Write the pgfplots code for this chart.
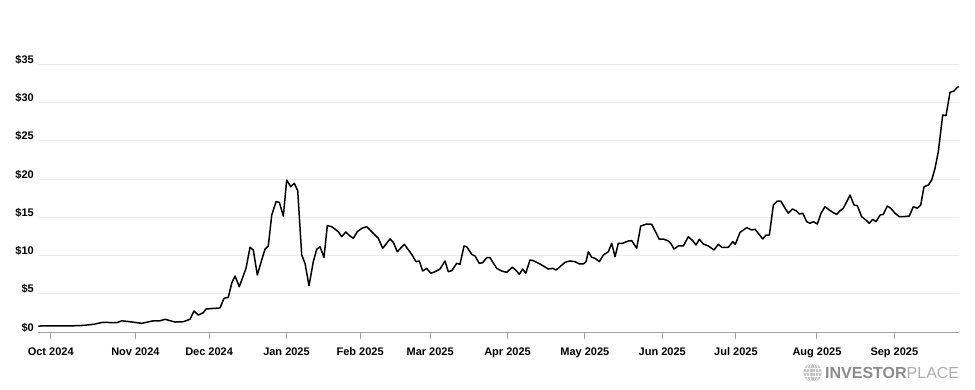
\documentclass[border=0pt]{standalone}
\usepackage{fontspec}
\setmainfont{Liberation Sans}
\usepackage{pgfplots}
\usepackage{pgfplotstable}
\pgfplotsset{compat=1.18}
\definecolor{gridc}{HTML}{EBEBEB}
\definecolor{axisc}{HTML}{A3A3A3}
\definecolor{logoA}{HTML}{8C8C8C}
\definecolor{logoB}{HTML}{ADADAD}
\pgfplotstableread{
x y
-3.37 0.82
7.95 0.86
11.56 1.04
14.11 1.30
17.92 1.25
19.27 1.50
21.53 1.38
24.70 1.17
27.85 1.50
29.67 1.50
31.03 1.70
33.74 1.34
35.99 1.38
37.81 1.70
38.90 2.78
40.07 2.26
41.42 2.56
42.16 3.04
43.70 3.10
45.96 3.18
47.04 4.44
48.21 4.57
49.13 6.40
50.03 7.35
51.19 5.95
53.01 8.35
54.10 11.10
55.00 10.74
56.08 7.48
57.27 9.44
58.17 10.84
59.07 11.27
59.99 15.30
61.16 17.05
62.05 16.97
63.14 15.18
64.06 19.88
65.15 19.00
66.12 19.45
67.05 18.49
68.13 10.09
69.03 9.00
70.11 6.08
71.28 9.22
72.20 10.84
73.10 11.17
74.18 9.79
75.08 13.92
76.27 13.79
78.07 13.13
78.99 12.48
80.08 13.09
81.24 12.57
82.14 12.27
83.22 13.13
84.42 13.57
85.77 13.79
87.13 13.13
88.92 12.27
90.12 10.97
92.10 12.18
93.00 11.75
94.08 10.52
95.98 11.49
97.99 10.18
99.16 9.22
100.05 9.31
100.98 8.00
102.06 8.35
103.15 7.70
104.31 7.91
105.67 8.26
107.03 9.31
107.92 7.91
108.85 8.04
110.20 9.00
111.10 8.88
112.19 11.27
112.92 11.17
114.28 10.18
115.17 9.96
116.34 9.00
117.26 9.09
118.35 9.74
119.24 9.74
121.06 8.35
122.42 8.00
123.78 7.83
125.30 8.49
126.22 8.13
127.20 7.57
128.12 8.26
128.94 7.70
130.10 9.44
131.00 9.35
132.82 8.92
135.07 8.26
136.27 8.35
137.17 8.13
138.25 8.57
139.61 9.14
140.97 9.31
142.33 9.22
143.49 8.92
144.58 8.92
145.31 9.22
145.93 10.52
146.85 9.79
147.75 9.66
148.92 9.22
150.00 10.09
151.36 10.52
152.28 11.62
153.18 9.87
154.07 11.62
155.26 11.62
156.78 11.92
157.71 11.96
159.06 10.97
160.15 13.88
161.78 14.14
163.14 14.10
165.20 12.14
166.29 12.18
167.64 11.92
168.30 11.62
169.19 10.87
170.36 11.27
171.72 11.27
173.07 12.48
174.27 11.96
175.16 11.40
176.06 12.14
177.14 11.53
178.50 11.27
180.05 10.74
181.21 11.49
182.14 11.10
183.93 11.10
185.13 11.83
185.83 11.49
187.11 13.05
188.93 13.66
190.29 13.36
191.19 13.45
192.08 12.92
193.28 12.18
194.17 12.70
195.07 12.70
196.16 16.62
197.24 17.14
198.17 17.14
199.33 16.19
200.23 15.54
201.31 16.10
202.32 15.87
203.21 15.44
204.13 15.54
205.22 14.44
206.11 14.23
207.01 14.44
208.09 14.14
209.10 15.54
210.18 16.40
211.35 15.97
212.43 15.61
213.36 15.40
214.25 15.87
215.15 16.19
216.07 17.05
216.97 17.92
218.05 16.62
218.95 16.53
220.14 15.09
221.50 14.57
222.21 14.23
223.13 14.75
224.02 14.44
225.11 15.31
226.01 15.40
227.09 16.49
228.01 16.19
229.18 15.54
230.35 15.09
231.43 15.09
233.06 15.18
234.15 16.40
235.23 16.19
236.16 16.62
237.05 19.00
238.22 19.23
239.14 19.88
240.04 21.41
240.93 23.58
242.13 28.37
243.02 28.28
244.11 31.33
245.19 31.50
246.09 31.98
246.55 32.10
}\prices
\begin{document}
\begin{tikzpicture}
\path[use as bounding box] (-38.3pt,-57.7pt) rectangle (936.7pt,332.3pt);
\begin{axis}[
  at={(0pt,0pt)}, anchor=south west,
  scale only axis, width=921pt, height=268.1pt,
  xmin=-3.37, xmax=246.63, ymin=0, ymax=35,
  clip=false,
  axis lines*=left,
  y axis line style={draw=none},
  x axis line style={draw=axisc, line width=1pt},
  ymajorgrids, grid style={draw=gridc, line width=1pt},
  ytick={0,5,10,15,20,25,30,35},
  yticklabels={\$0,\$5,\$10,\$15,\$20,\$25,\$30,\$35},
  ytick style={draw=none},
  xtick={0,23,43,64,84,103,124,145,166,186,208,229},
  xticklabels={Oct 2024,Nov 2024,Dec 2024,Jan 2025,Feb 2025,Mar 2025,Apr 2025,May 2025,Jun 2025,Jul 2025,Aug 2025,Sep 2025},
  xtick style={draw=axisc, line width=1pt},
  tick align=outside, major tick length=6.5pt,
  x tick label style={font=\bfseries\fontsize{11}{13}\selectfont, anchor=base, inner sep=0pt, yshift=-17pt},
  y tick label style={font=\bfseries\fontsize{11}{13}\selectfont, anchor=base east, inner sep=0pt, xshift=2.2pt, yshift=1pt},
]
\addplot[black, line width=1.5pt, line join=round, mark=none] table[x=x,y=y] {\prices};
\end{axis}
\begin{scope}[shift={(774.2pt,-40.2pt)}]
  \fill[logoB!70] (0,0) circle (9.3pt);
  \draw[white, line width=0.6pt] (0,0) ellipse (3pt and 9.3pt);
  \draw[white, line width=0.6pt] (0,0) ellipse (6.5pt and 9.3pt);
  \draw[white, line width=0.6pt] (-9.3pt,0) -- (9.3pt,0);
  \draw[white, line width=0.6pt] (-8.3pt,4.3pt) -- (8.3pt,4.3pt);
  \draw[white, line width=0.6pt] (-8.3pt,-4.3pt) -- (8.3pt,-4.3pt);
\end{scope}
\node[anchor=base west, inner sep=0pt, font=\fontsize{16}{18}\selectfont] at (786.7pt,-46pt) {\textcolor{logoA}{\textbf{INVESTOR}}\textcolor{logoB}{PLACE}};
\end{tikzpicture}
\end{document}
